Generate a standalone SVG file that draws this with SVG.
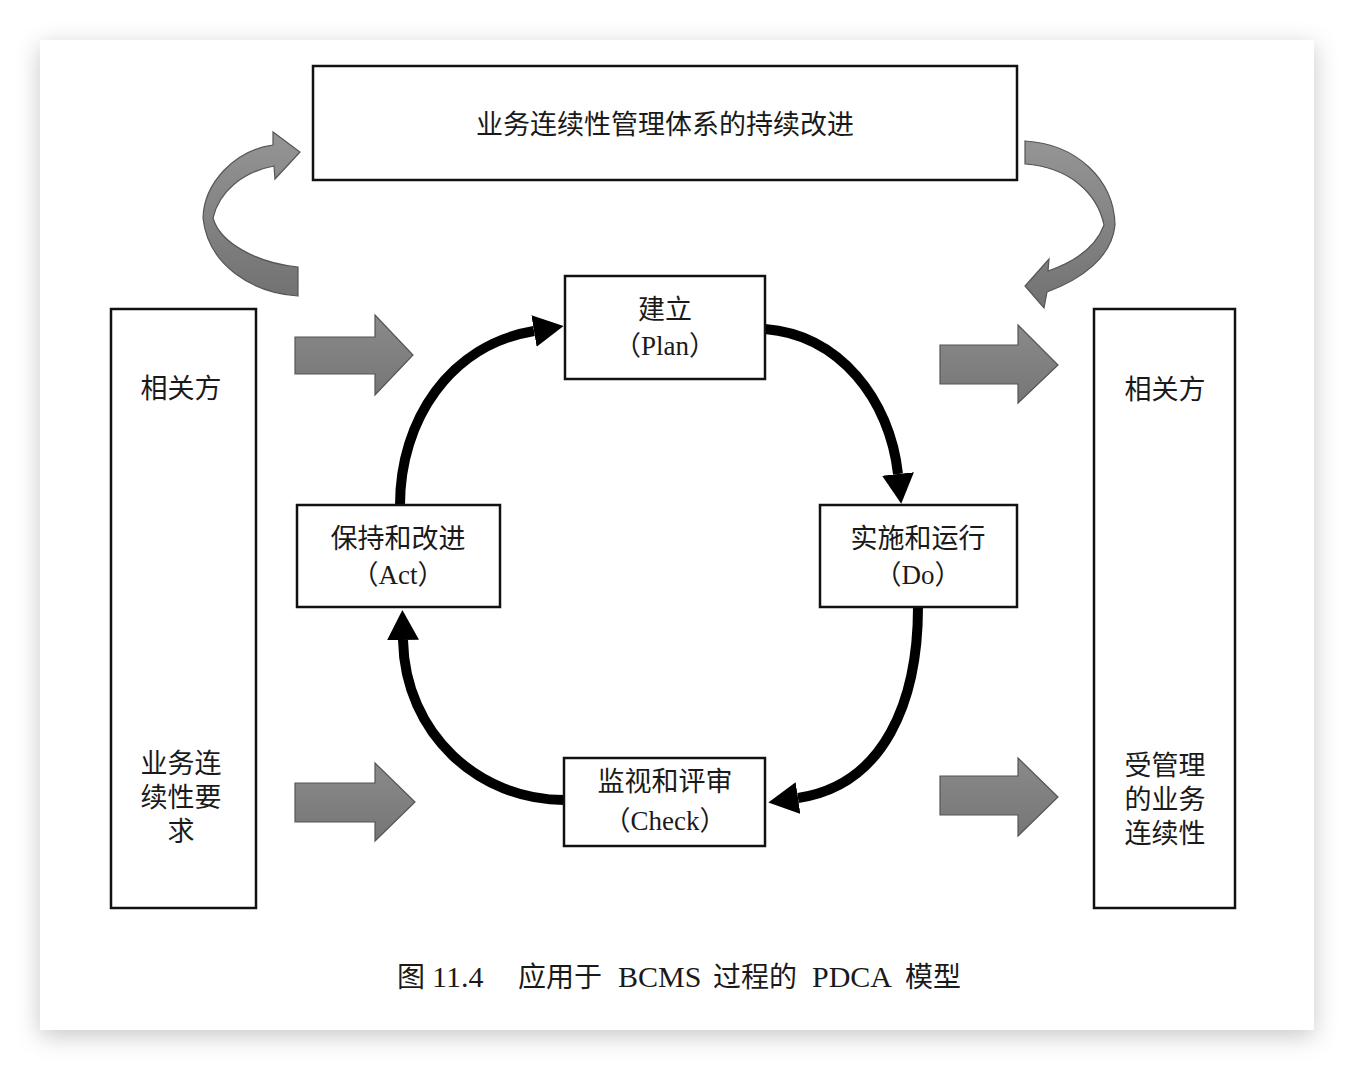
<svg xmlns="http://www.w3.org/2000/svg" width="1354" height="1070" viewBox="0 0 1354 1070">
<defs>
<style>
.box{fill:#fff;stroke:#111;stroke-width:2.5}
.t{font-family:"Liberation Serif","Noto Sans CJK SC",serif;font-size:27px;fill:#1a1a1a;text-anchor:middle}
.cap{font-family:"Liberation Serif","Noto Sans CJK SC",serif;font-size:28px;fill:#1a1a1a;text-anchor:start}
.capl{font-family:"Liberation Serif","Noto Sans CJK SC",serif;font-size:30px;fill:#1a1a1a;text-anchor:start}
.flow{fill:none;stroke:#000;stroke-width:10}
.blk{fill:url(#g1);stroke:#555;stroke-width:1.2}
.crv{fill:url(#g2);stroke:#555;stroke-width:1.2}
</style>
<filter id="sh" x="-10%" y="-10%" width="120%" height="120%">
<feDropShadow dx="0" dy="6" stdDeviation="12" flood-color="#000" flood-opacity="0.22"/>
</filter>
<linearGradient id="g1" x1="0" y1="0" x2="0" y2="1">
<stop offset="0" stop-color="#8a8a8a"/><stop offset="1" stop-color="#767676"/>
</linearGradient>
<linearGradient id="g2" x1="0" y1="0" x2="0" y2="1">
<stop offset="0" stop-color="#959595"/><stop offset="1" stop-color="#727272"/>
</linearGradient>
<marker id="ah" viewBox="0 0 30 32" refX="0" refY="16" markerWidth="30" markerHeight="32" markerUnits="userSpaceOnUse" orient="auto">
<path d="M0,0 L30,16 L0,32 Z" fill="#000"/>
</marker>
</defs>
<rect width="1354" height="1070" fill="#fff"/>
<rect x="40" y="40" width="1274" height="990" fill="#fff" filter="url(#sh)"/>

<g id="connectors">
<path class="flow" d="M400,505 C400,420 450,345 534,331" marker-end="url(#ah)"/>
<path class="flow" d="M765,329 C840,335 890,400 898,474" marker-end="url(#ah)"/>
<path class="flow" d="M918,607 C918,700 885,785 798,798" marker-end="url(#ah)"/>
<path class="flow" d="M564,800 C480,800 405,735 403,640" marker-end="url(#ah)"/>
</g>

<g id="block-arrows">
<polygon class="blk" points="295,337 375,337 375,315 413,355 375,395 375,374 295,374"/>
<polygon class="blk" points="295,783 375,783 375,763 415,802 375,841 375,822 295,822"/>
<polygon class="blk" points="940,345 1018,345 1018,325 1058,365 1018,403 1018,384 940,384"/>
<polygon class="blk" points="940,776 1018,776 1018,758 1058,797 1018,836 1018,815 940,815"/>
</g>

<g id="curved-arrows">
<path class="crv" d="M298,296 C252,293 208,265 203,218 C204,183 235,150 273,145 L273,132 L300,152 L275,179 L274,166 C242,172 219,192 213,218 C220,243 257,263 298,267 Z"/>
<path class="crv" d="M1025,141 C1077,144 1114,180 1115,225 C1112,257 1082,279 1047,292 L1044,308 L1025,286 L1049,259 L1048,271 C1074,262 1096,247 1104,225 C1097,192 1068,167 1025,164 Z"/>
</g>

<g id="node-top">
<rect class="box" x="313" y="66" width="704" height="114"/>
<text class="t" x="665" y="134">业务连续性管理体系的持续改进</text>
</g>

<g id="node-left">
<rect class="box" x="111" y="309" width="145" height="599"/>
<text class="t" x="181" y="398">相关方</text>
<text class="t" x="181" y="773">业务连</text>
<text class="t" x="181" y="807">续性要</text>
<text class="t" x="181" y="841">求</text>
</g>

<g id="node-right">
<rect class="box" x="1094" y="309" width="141" height="599"/>
<text class="t" x="1165" y="399">相关方</text>
<text class="t" x="1165" y="775">受管理</text>
<text class="t" x="1165" y="809">的业务</text>
<text class="t" x="1165" y="843">连续性</text>
</g>

<g id="node-plan">
<rect class="box" x="565" y="276" width="200" height="103"/>
<text class="t" x="665" y="319">建立</text>
<text class="t" x="665" y="355">（Plan）</text>
</g>

<g id="node-do">
<rect class="box" x="820" y="505" width="197" height="102"/>
<text class="t" x="918" y="548">实施和运行</text>
<text class="t" x="918" y="584">（Do）</text>
</g>

<g id="node-check">
<rect class="box" x="564" y="758" width="201" height="88"/>
<text class="t" x="665" y="791">监视和评审</text>
<text class="t" x="665" y="830">（Check）</text>
</g>

<g id="node-act">
<rect class="box" x="297" y="505" width="203" height="102"/>
<text class="t" x="398" y="548">保持和改进</text>
<text class="t" x="398" y="584">（Act）</text>
</g>

<g id="caption">
<text class="cap" x="397" y="987">图</text>
<text class="capl" x="432" y="987">11.4</text>
<text class="cap" x="518" y="987">应用于</text>
<text class="capl" x="618" y="987">BCMS</text>
<text class="cap" x="713" y="987">过程的</text>
<text class="capl" x="812" y="987">PDCA</text>
<text class="cap" x="905" y="987">模型</text>
</g>
</svg>
